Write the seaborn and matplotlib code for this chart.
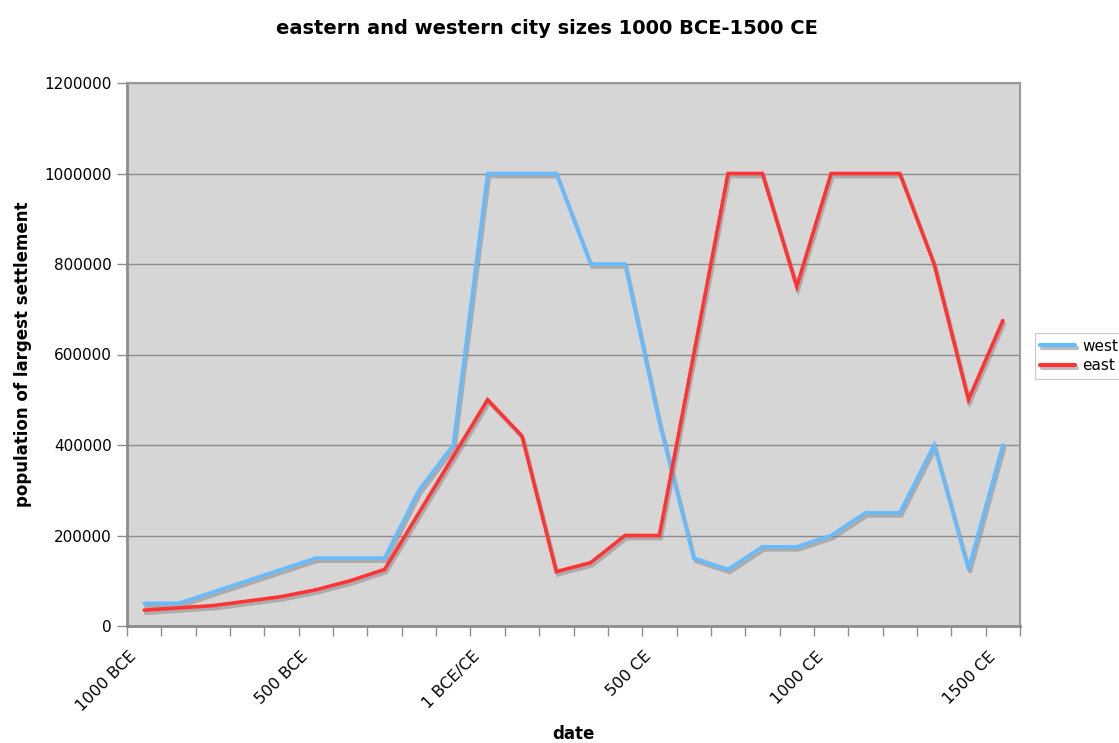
import matplotlib
matplotlib.use("Agg")
import matplotlib.pyplot as plt
import matplotlib.patheffects as pe
import matplotlib.transforms as mtransforms
from matplotlib.ticker import FixedLocator
import seaborn as sns
import pandas as pd

# Century periods, 1000 BCE through 1500 CE
periods = [f"{y} BCE" for y in range(1000, 0, -100)] + ["1 BCE/CE"] + \
          [f"{y} CE" for y in range(100, 1600, 100)]

west = [50000, 50000, 75000, 100000, 125000, 150000, 150000, 150000, 300000, 400000,
        1000000, 1000000, 1000000, 800000, 800000, 450000, 150000, 125000, 175000, 175000,
        200000, 250000, 250000, 400000, 125000, 400000]
east = [35000, 40000, 45000, 55000, 65000, 80000, 100000, 125000, 250000, 375000,
        500000, 420000, 120000, 140000, 200000, 200000, 600000, 1000000, 1000000, 750000,
        1000000, 1000000, 1000000, 800000, 500000, 675000]

series_names = ["west", "east"]
series_colors = {"west": "#66BBFF", "east": "#FF3333"}
y_ticks = [0, 200000, 400000, 600000, 800000, 1000000, 1200000]

idx = list(range(len(periods)))
df = pd.DataFrame({
    "pos": idx * 2,
    "population": west + east,
    "region": ["west"] * len(idx) + ["east"] * len(idx),
})

sns.set_theme(style="white")
plt.rcParams["font.family"] = ["DejaVu Sans"]
plt.rcParams.update({"text.color": "black", "axes.labelcolor": "black",
                     "xtick.color": "black", "ytick.color": "black"})

fig = plt.figure(figsize=(11.19, 7.43), dpi=100)
ax = fig.add_axes([127 / 1119, 1 - 626 / 743, (1020 - 127) / 1119, (626 - 83) / 743])
ax.set_facecolor("#D6D6D6")

sns.lineplot(data=df, x="pos", y="population", hue="region", hue_order=series_names,
             palette=series_colors, linewidth=2.6, sort=False, ax=ax, legend=True)

shadow = [pe.SimpleLineShadow(offset=(1.2, -2.2), shadow_color="#888888", alpha=0.55),
          pe.Normal()]
for line in ax.get_lines():
    line.set_path_effects(shadow)
    line.set_solid_joinstyle("miter")

ax.set_xlim(-0.5, len(periods) - 0.5)
ax.set_ylim(0, 1200000)

# horizontal gridlines
ax.yaxis.set_major_locator(FixedLocator(y_ticks))
ax.set_yticklabels([str(v) for v in y_ticks], fontsize=11)
ax.grid(axis="y", color="#8C8C8C", linewidth=1.0)
ax.set_axisbelow(True)

# category boundaries as ticks
ax.xaxis.set_major_locator(FixedLocator([i - 0.5 for i in range(len(periods) + 1)]))
ax.xaxis.set_major_formatter(plt.NullFormatter())
ax.tick_params(axis="x", which="major", length=7, color="#8C8C8C", width=1, direction="out",
               bottom=True)
ax.tick_params(axis="y", length=7, color="#8C8C8C", width=1, direction="out", left=True, pad=4)

# slanted period labels every five centuries, hanging below their category
label_tr = ax.get_xaxis_transform() + mtransforms.ScaledTranslation(-10 / 100, -28 / 100,
                                                                      fig.dpi_scale_trans)
for i in idx[::5]:
    ax.text(i, 0, periods[i], transform=label_tr, fontsize=11.5, rotation=45,
            ha="right", va="center", rotation_mode="anchor")

for side in ["left", "bottom"]:
    ax.spines[side].set_color("#8C8C8C")
    ax.spines[side].set_linewidth(2)
for side in ["right", "top"]:
    ax.spines[side].set_color("#9A9A9A")
    ax.spines[side].set_linewidth(1.5)

ax.set_xlabel("date", fontsize=12, fontweight="bold", va="top")
ax.xaxis.set_label_coords(0.5, -0.182)
ax.set_ylabel("population of largest settlement", fontsize=12, fontweight="bold", labelpad=9)
fig.suptitle("eastern and western city sizes 1000 BCE-1500 CE", fontsize=14,
             fontweight="bold", x=546.5 / 1119, y=0.975)

ax.get_legend().remove()
handles, labels = ax.get_legend_handles_labels()
leg = fig.legend(handles, labels, loc="center left", bbox_to_anchor=(1035 / 1119, 1 - 356 / 743),
                 fontsize=11, frameon=True, fancybox=False, edgecolor="#BBBBBB",
                 handlelength=2.3, borderpad=0.35, labelspacing=0.3, handletextpad=0.45,
                 borderaxespad=0)
leg.get_frame().set_linewidth(0.8)
for h in leg.get_lines():
    h.set_linewidth(3)

fig.savefig("out.png", dpi=100, facecolor="white")
